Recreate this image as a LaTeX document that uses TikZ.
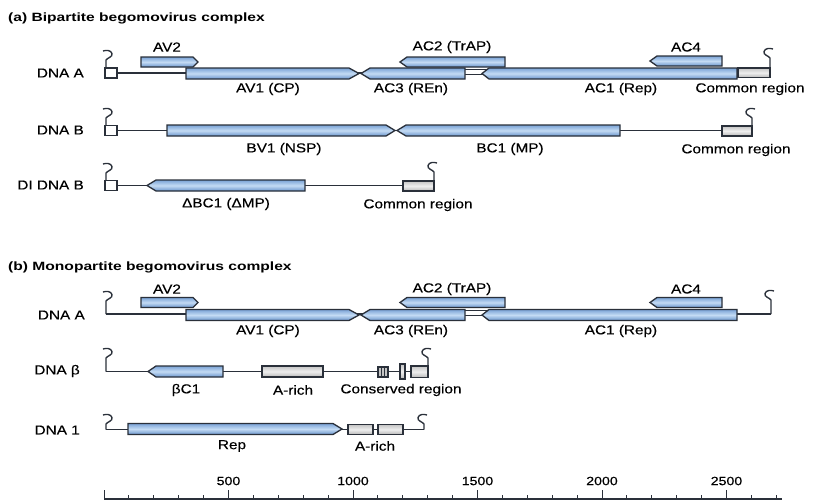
\documentclass[tikz,border=0pt]{standalone}
\usepackage{fontspec}
\setmainfont{Liberation Sans}[FakeStretch=1.18, FakeBold=0.35]
\newfontfamily\titlefont{Liberation Sans}[FakeStretch=1.3]
\definecolor{geneTop}{HTML}{7AA3D6}
\definecolor{geneMid}{HTML}{C4DBF4}
\definecolor{geneBot}{HTML}{6A95CC}
\definecolor{edge}{HTML}{2A303A}
\definecolor{boxTop}{HTML}{C4C4C4}
\definecolor{boxMid}{HTML}{EEEEEE}
\definecolor{boxBot}{HTML}{B8B8B8}
\tikzset{
  gene/.style={draw=edge, line width=1.3pt, top color=geneTop, bottom color=geneBot, middle color=geneMid},
  greybox/.style={draw=edge, line width=1.2pt, top color=boxTop, bottom color=boxBot, middle color=boxMid},
  sqbox/.style={draw=edge, line width=1.2pt, fill=white},
  dnaline/.style={draw=edge, line width=1.35pt},
  lbl/.style={font=\fontsize{13}{15}\selectfont, inner sep=0pt, text=black},
  rowlbl/.style={lbl, anchor=east},
  ttl/.style={font=\titlefont\bfseries\fontsize{12}{14}\selectfont, anchor=west, inner sep=0pt, text=black},
  num/.style={font=\fontsize{12}{14}\selectfont, inner sep=0pt, text=black},
}
% right-pointing gene: [tip] x1 x2 yc half
\newcommand\geneR[5][7]{\path[gene] (#2,#4-#5) -- (#3-#1,#4-#5) -- (#3,#4) -- (#3-#1,#4+#5) -- (#2,#4+#5) -- cycle;}
% left-pointing gene
\newcommand\geneL[5][7]{\path[gene] (#3,#4-#5) -- (#2+#1,#4-#5) -- (#2,#4) -- (#2+#1,#4+#5) -- (#3,#4+#5) -- cycle;}
% stem-loop hooks: x, ybottom, ytop
\newcommand\hookL[3]{\draw[dnaline] (#1,#2) -- (#1,#3+10) .. controls (#1+1,#3+8) and (#1+7,#3+7) .. (#1+6,#3+3.5) .. controls (#1+5,#3) and (#1,#3) .. (#1-3,#3+1);}
\newcommand\hookR[3]{\draw[dnaline] (#1,#2) -- (#1,#3+10) .. controls (#1-1,#3+8) and (#1-7,#3+7) .. (#1-6,#3+3.5) .. controls (#1-5,#3) and (#1,#3) .. (#1+3,#3+1);}
\begin{document}
\begin{tikzpicture}[x=1pt,y=-1pt]
\useasboundingbox[fill=white] (0,0) rectangle (815,504);

% ================= (a) =================
\node[ttl] (ta) at (8,18) {(a) Bipartite begomovirus complex};

% ---- DNA A ----
\node[rowlbl] (laA) at (84,73) {DNA A};
\coordinate (aA0) at (117,73);
\coordinate (aA1) at (738,73);
\draw[dnaline] (aA0) -- (aA1);
\hookL{106}{68}{50}
\path[sqbox] (105,68) rectangle (117,78);
\geneR[5]{141}{198}{62}{5}
\geneL{400}{505}{62}{5}
\geneL{650}{722}{61}{5}
\path[draw=edge, line width=1pt, fill=white] (463,69.5) rectangle (487,74.5);
\geneR[10]{186}{359}{73.5}{5.5}
\geneL[9]{361}{465}{73.5}{5.5}
\geneL[7]{482}{737}{73.5}{5.5}
\path[greybox] (738,68) rectangle (770,77.5);
\hookR{770}{68}{48}
\node[lbl] (n1) at (167,47) {AV2};
\node[lbl] (n2) at (268,89) {AV1 (CP)};
\node[lbl] (n3) at (411,89) {AC3 (REn)};
\node[lbl] (n4) at (452,47) {AC2 (TrAP)};
\node[lbl] (n5) at (621,89) {AC1 (Rep)};
\node[lbl] (n6) at (686,47) {AC4};
\node[lbl] (n7) at (750,89) {Common region};

% ---- DNA B ----
\node[rowlbl] (laB) at (84,130) {DNA B};
\coordinate (aB0) at (117,130.5);
\coordinate (aB1) at (722,130.5);
\draw[dnaline] (aB0) -- (aB1);
\hookL{106}{125}{108}
\path[sqbox] (105,125.5) rectangle (117,135.5);
\geneR[9]{167}{395}{130.5}{5.5}
\geneL[9]{397}{620}{130.5}{5.5}
\path[greybox] (722,126) rectangle (752,136);
\hookR{752}{126}{108}
\node[lbl] (n8) at (284,149) {BV1 (NSP)};
\node[lbl] (n9) at (510,149) {BC1 (MP)};
\node[lbl] (n10) at (736,150) {Common region};

% ---- DI DNA B ----
\node[rowlbl] (laC) at (84,185) {DI DNA B};
\coordinate (aC0) at (117,185.5);
\coordinate (aC1) at (403,185.5);
\draw[dnaline] (aC0) -- (aC1);
\hookL{106}{180}{163}
\path[sqbox] (105,180.5) rectangle (117,190.5);
\geneL[9]{147}{305}{185.5}{5.5}
\path[greybox] (403,181) rectangle (434,191);
\hookR{434}{181}{162}
\node[lbl] (n11) at (226,204) {ΔBC1 (ΔMP)};
\node[lbl] (n12) at (418,205) {Common region};

% ================= (b) =================
\node[ttl] (tb) at (8,267) {(b) Monopartite begomovirus complex};

% ---- DNA A ----
\node[rowlbl] (lbA) at (85,315) {DNA A};
\coordinate (bA0) at (106,314);
\coordinate (bA1) at (771,314);
\draw[dnaline] (bA0) -- (bA1);
\hookL{106}{314}{291}
\hookR{771}{314}{290}
\geneR[5]{141}{198}{302.5}{5}
\geneL{400}{505}{302.5}{5}
\geneL{650}{722}{302.5}{5}
\path[draw=edge, line width=1pt, fill=white] (463,310.5) rectangle (487,315.5);
\geneR[10]{186}{359}{315}{5.5}
\geneL[9]{361}{465}{315}{5.5}
\geneL[7]{482}{737}{315}{5.5}
\node[lbl] (m1) at (167,289) {AV2};
\node[lbl] (m2) at (268,331) {AV1 (CP)};
\node[lbl] (m3) at (411,331) {AC3 (REn)};
\node[lbl] (m4) at (452,289) {AC2 (TrAP)};
\node[lbl] (m5) at (621,331) {AC1 (Rep)};
\node[lbl] (m6) at (686,289) {AC4};

% ---- DNA beta ----
\node[rowlbl] (lbB) at (80,371) {DNA β};
\coordinate (bB0) at (106,371.5);
\coordinate (bB1) at (428,371.5);
\draw[dnaline] (bB0) -- (bB1);
\hookL{106}{371.5}{348}
\geneL[8]{148}{223}{371.5}{5.5}
\path[greybox] (262,366) rectangle (323,377);
\path[draw=edge, line width=1.2pt, fill=boxTop] (378,367) rectangle (388,377);
\draw[edge, line width=0.8pt] (381.5,367) -- (381.5,377) (384.5,367) -- (384.5,377);
\path[greybox] (400,364) rectangle (405,379);
\path[greybox] (411,366) rectangle (428,377.5);
\hookR{428}{366}{348}
\node[lbl] (m7) at (186,390) {βC1};
\node[lbl] (m8) at (293,390) {A-rich};
\node[lbl] (m9) at (401,390) {Conserved region};

% ---- DNA 1 ----
\node[rowlbl] (lbC) at (80,430) {DNA 1};
\coordinate (bC0) at (106,429.5);
\coordinate (bC1) at (424,429.5);
\draw[dnaline] (bC0) -- (bC1);
\hookL{106}{429.5}{414}
\hookR{424}{429.5}{414}
\geneR[9]{128}{342}{429}{5.5}
\path[greybox] (348,424.5) rectangle (373,434.5);
\path[greybox] (378,424.5) rectangle (403,434.5);
\node[lbl] (m10) at (232,446) {Rep};
\node[lbl] (m11) at (375,446) {A-rich};

% ================= scale bar =================
\coordinate (s0) at (104,499);
\coordinate (s1) at (782,499);
\draw[dnaline, line width=1.1pt] (s0) -- (s1);
\foreach \i in {0,...,27} {\draw[edge, line width=0.9pt] (104+24.9*\i,499) -- (104+24.9*\i,494.5);}
\foreach \i in {0,5,10,15,20,25} {\draw[edge, line width=1pt] (104+24.9*\i,499) -- (104+24.9*\i,490);}
\foreach \i/\t in {5/500,10/1000,15/1500,20/2000,25/2500} {\node[num] at (104+24.9*\i,481) {\t};}
\end{tikzpicture}
\end{document}
